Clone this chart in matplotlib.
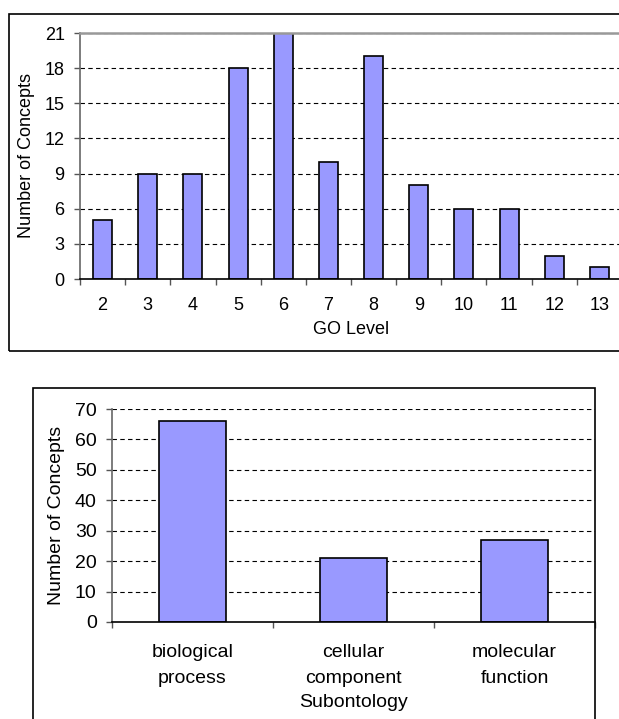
import matplotlib
matplotlib.use("Agg")
import matplotlib.pyplot as plt
from matplotlib.patches import Rectangle

plt.rcParams["font.family"] = ["Liberation Sans", "DejaVu Sans"]

# concepts per GO level
go_levels = ["2", "3", "4", "5", "6", "7", "8", "9", "10", "11", "12", "13"]
level_counts = [5, 9, 9, 18, 21, 10, 19, 8, 6, 6, 2, 1]
level_yticks = [0, 3, 6, 9, 12, 15, 18, 21]

# concepts per subontology
subontologies = ["biological\nprocess", "cellular\ncomponent", "molecular\nfunction"]
subontology_counts = [66, 21, 27]
sub_yticks = [0, 10, 20, 30, 40, 50, 60, 70]

BAR = "#9999ff"
W, H = 619, 719


def px_axes(fig, left, top, right, bottom):
    return fig.add_axes([left / W, (H - bottom) / H, (right - left) / W, (bottom - top) / H])


def frame(fig, left, top, right, bottom):
    fig.add_artist(Rectangle((left / W, (H - bottom) / H), (right - left) / W,
                             (bottom - top) / H, transform=fig.transFigure,
                             fill=False, edgecolor="black", linewidth=1.2))


def style_bar_axes(ax, n, yticks, fontsize, xpad):
    ax.set_xlim(-0.5, n - 0.5)
    ax.set_ylim(yticks[0], yticks[-1])
    ax.set_yticks(yticks)
    ax.set_xticks(range(n))
    ax.set_xticks([i - 0.5 for i in range(n + 1)], minor=True)
    ax.tick_params(axis="x", which="major", length=0, pad=xpad, labelsize=fontsize)
    ax.tick_params(axis="x", which="minor", length=4, width=1, color="#555555")
    ax.tick_params(axis="y", length=4, width=1, color="#555555", pad=7,
                   labelsize=fontsize)
    for y in yticks[1:]:
        ax.axhline(y, color="black", linewidth=0.8, dashes=(4, 3), zorder=0)
    ax.spines["right"].set_visible(False)
    ax.spines["left"].set_color("#666666")
    ax.spines["left"].set_linewidth(1.2)
    ax.spines["bottom"].set_color("black")
    ax.spines["bottom"].set_linewidth(1.2)


fig = plt.figure(figsize=(W / 100, H / 100), dpi=100)

# top: GO level histogram
frame(fig, 9, 14, 700, 351)
ax1 = px_axes(fig, 80, 33, 622, 279)
x1 = range(len(go_levels))
ax1.bar(x1, level_counts, width=0.42, color=BAR, edgecolor="black",
        linewidth=1.2, zorder=2)
style_bar_axes(ax1, len(go_levels), level_yticks, 13, 13)
ax1.set_xticklabels(go_levels)
ax1.spines["top"].set_color("#999999")
ax1.spines["top"].set_linewidth(1.8)
ax1.set_xlabel("GO Level", fontsize=13, labelpad=5)
ax1.set_ylabel("Number of Concepts", fontsize=13, labelpad=7)

# bottom: subontology counts
frame(fig, 33, 388, 595, 760)
ax2 = px_axes(fig, 112, 409, 595, 622)
x2 = range(len(subontologies))
ax2.bar(x2, subontology_counts, width=0.41, color=BAR, edgecolor="black",
        linewidth=1.2, zorder=2)
style_bar_axes(ax2, len(subontologies), sub_yticks, 14, 16)
ax2.set_xticklabels(subontologies, linespacing=1.65)
ax2.spines["top"].set_visible(False)
ax2.set_xlabel("Subontology", fontsize=14, labelpad=5)
ax2.set_ylabel("Number of Concepts", fontsize=14, labelpad=7)

fig.savefig("out.png", dpi=100)
